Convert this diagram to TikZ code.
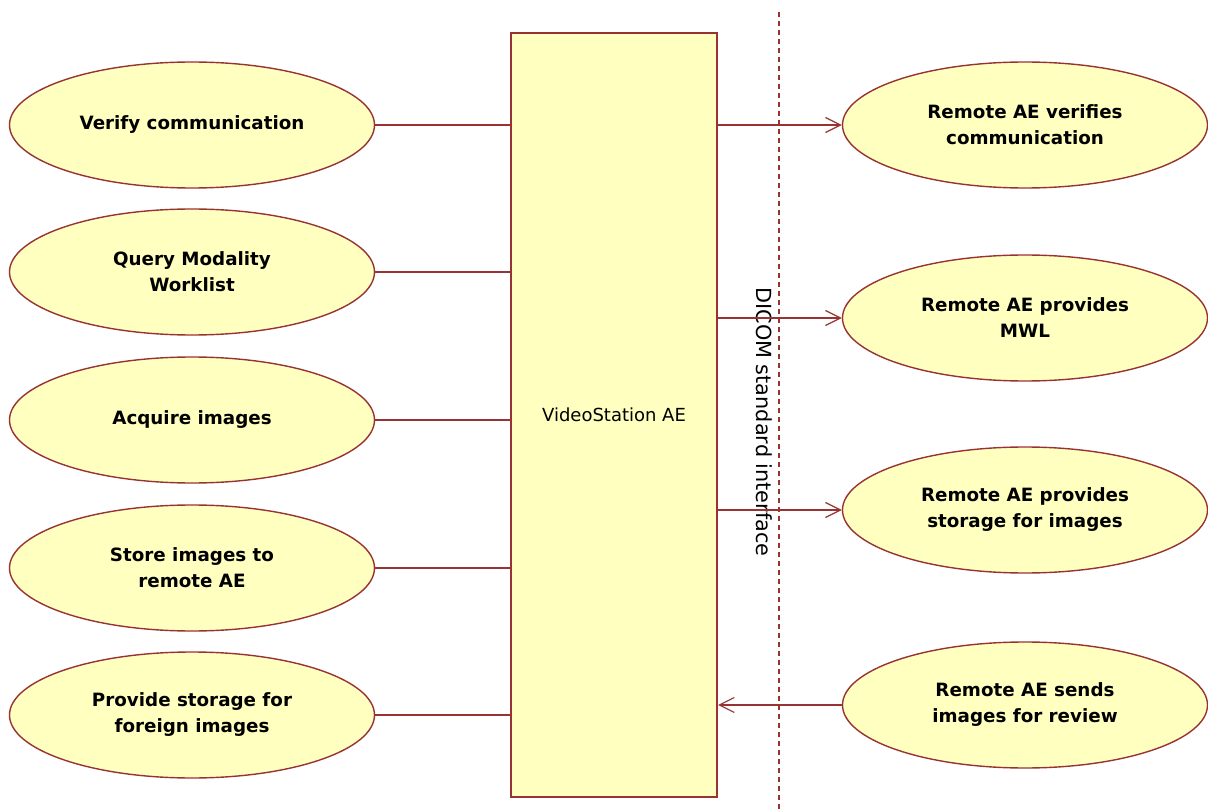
\documentclass[tikz,border=0pt]{standalone}
\usepackage{fontspec}
\setmainfont{DejaVu Sans}
\usetikzlibrary{shapes.geometric,arrows.meta}
\definecolor{umlred}{HTML}{993333}
\definecolor{umlfill}{HTML}{FFFFC0}
\begin{document}
\begin{tikzpicture}[x=1pt,y=-1pt,
  uc/.style={ellipse,draw=umlred,fill=umlfill,line width=1.4pt,minimum width=365pt,minimum height=126pt,inner sep=0pt,align=center,font=\fontsize{18.3}{26}\selectfont\bfseries},
  link/.style={draw=umlred,line width=1.4pt},
  arr/.style={link,-{Straight Barb[length=15pt,width=15pt,line width=1.2pt]}}
  ]
\useasboundingbox (0,0) rectangle (1208,810);
\node[draw=umlred,fill=umlfill,line width=2pt,minimum width=206pt,minimum height=764pt,inner sep=0pt,anchor=north west,font=\fontsize{18}{22}\selectfont] (ae) at (510,32) {VideoStation AE};
\draw[umlred,line width=1.8pt,dash pattern=on 5pt off 4pt] (779,12) coordinate (dtop) -- (779,810) coordinate (dbot);
\node[rotate=-90,font=\fontsize{20.8}{24}\selectfont] (dicom) at (764,422) {DICOM standard interface};
\node[uc] (l1) at (192,125) {Verify communication};
\node[uc] (l2) at (192,272) {Query Modality\\Worklist};
\node[uc] (l3) at (192,420) {Acquire images};
\node[uc] (l4) at (192,568) {Store images to\\remote AE};
\node[uc] (l5) at (192,715) {Provide storage for\\foreign images};
\node[uc] (r1) at (1025,125) {Remote AE verifies\\communication};
\node[uc] (r2) at (1025,318) {Remote AE provides\\MWL};
\node[uc] (r3) at (1025,510) {Remote AE provides\\storage for images};
\node[uc] (r4) at (1025,705) {Remote AE sends\\images for review};
\foreach \n in {l1,l2,l3,l4,l5} \draw[link] (\n.east) -- (\n.east -| ae.west);
\foreach \n in {r1,r2,r3} \draw[arr] (\n.west -| ae.east) -- (\n.west);
\draw[arr] (r4.west) -- (r4.west -| ae.east);
\end{tikzpicture}
\end{document}
